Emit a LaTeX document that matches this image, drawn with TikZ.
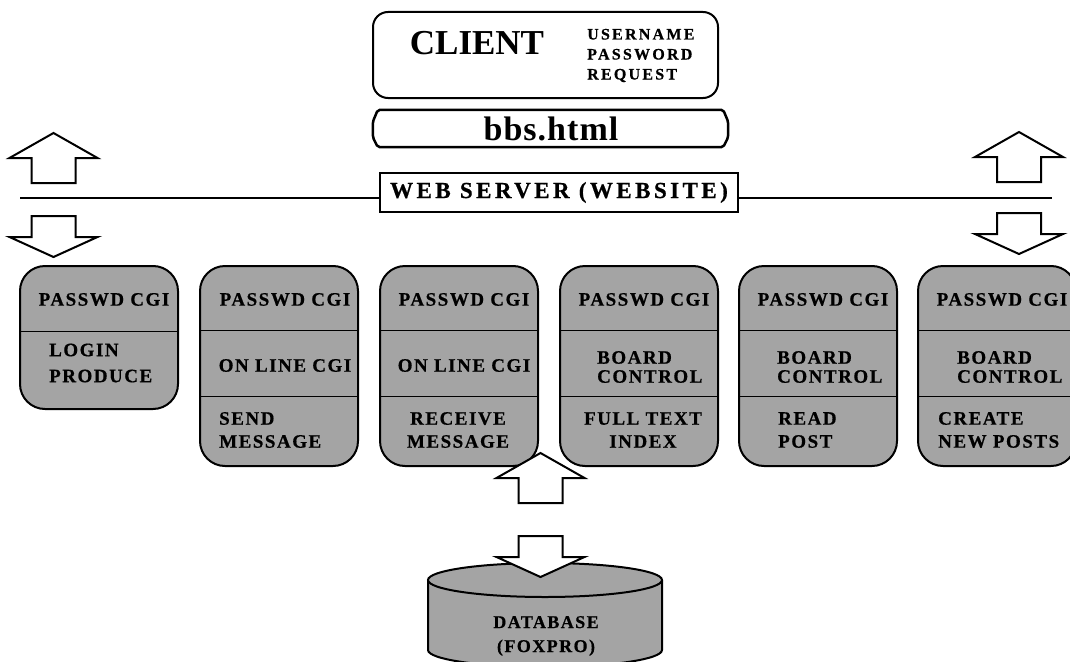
\documentclass[tikz,border=0pt]{standalone}
\usepackage{fontspec}
\setmainfont{Liberation Serif}
\newfontfamily\lblface{Liberation Serif}[LetterSpace=8, FakeBold=0.6]
\newfontfamily\loginface{Liberation Serif}[LetterSpace=14, FakeBold=0.6]
\newfontfamily\serverface{Liberation Serif}[LetterSpace=15, FakeBold=0.6]
\newfontfamily\titleface{Liberation Serif}[LetterSpace=3]
\usetikzlibrary{calc}
\definecolor{boxgray}{HTML}{A4A4A4}
\newcommand\midfont{\lblface\bfseries\fontsize{19}{19}\selectfont}
\newcommand\lowfont{\lblface\bfseries\fontsize{19}{23}\selectfont}

\tikzset{
  outline/.style={line width=2pt},
  cgibox/.style={draw, line width=2pt, fill=boxgray, rectangle, rounded corners=25pt,
    minimum width=158pt, inner sep=0pt},
  divider/.style={line width=1pt},
  lbl/.style={font=\midfont, inner sep=0pt},
  lowlbl/.style={font=\lowfont, inner sep=0pt},
  blockarrow/.style={draw, line width=2pt, fill=white, line join=miter},
  uparrow/.pic={\draw[blockarrow] (0,0) -- (44,25) -- (22,25) -- (22,50) -- (-22,50)
    -- (-22,25) -- (-44,25) -- cycle;},
  downarrow/.pic={\draw[blockarrow] (-22,0) -- (22,0) -- (22,21) -- (44,21) -- (0,41)
    -- (-44,21) -- (-22,21) -- cycle;}
}

\begin{document}
\begin{tikzpicture}[x=1pt,y=-1pt]
\useasboundingbox (0,0) rectangle (1070,661);

% client block
\node[draw, line width=2pt, rectangle, rounded corners=15pt, minimum width=345pt,
  minimum height=86pt] (client) at (545.5,55) {};
\node[font=\bfseries\fontsize{35}{35}\selectfont, inner sep=0pt] (clientname) at (477,43.5) {CLIENT};
\node[font=\loginface\bfseries\fontsize{16}{20}\selectfont, inner sep=0pt, align=left,
  anchor=west] (login) at (587,55.5) {USERNAME\\PASSWORD\\REQUEST};

% page: a bar with clipped ends
\node[minimum width=355pt, minimum height=37pt, inner sep=0pt] (page) at (550.5,128.5) {};
\draw[line width=2.5pt, rounded corners=2pt]
  ($(page.north west)+(5,0)$) -- ($(page.north east)+(-5,0)$)
  -- ($(page.north east)+(0,12)$) -- ($(page.south east)+(0,-10)$)
  -- ($(page.south east)+(-5,0)$) -- ($(page.south west)+(5,0)$)
  -- ($(page.south west)+(0,-10)$) -- ($(page.north west)+(0,12)$) -- cycle;
\node[font=\titleface\bfseries\fontsize{34}{34}\selectfont, inner sep=0pt] (pagename) at (551,128.5) {bbs.html};

% server line and label
\coordinate (lineL) at (20,198);
\coordinate (lineR) at (1052,198);
\draw[line width=1.5pt] (lineL) -- (lineR);
\node[draw, line width=2pt, fill=white, rectangle, minimum width=358pt, minimum height=39pt,
  inner sep=0pt, font=\serverface\bfseries\fontsize{23}{23}\selectfont] (server) at (559,192.5)
  {WEB SERVER (WEBSITE)};

% arrows to and from the server
\pic (upL) at (53.5,133) {uparrow};
\pic (downL) at (53.5,216) {downarrow};
\pic (upR) at (1019,132) {uparrow};
\pic (downR) at (1019,213) {downarrow};

% CGI modules
\node[cgibox, minimum height=143pt] (b1) at (99,337.5) {};
\node[cgibox, minimum height=200pt] (b2) at (279,366) {};
\node[cgibox, minimum height=200pt] (b3) at (459,366) {};
\node[cgibox, minimum height=200pt] (b4) at (639,366) {};
\node[cgibox, minimum height=200pt] (b5) at (818,366) {};
\node[cgibox, minimum height=200pt] (b6) at (997,366) {};

\draw[divider] (b1.west |- 0,331) -- (b1.east |- 0,331);
\foreach \b in {b2,b3,b4,b5,b6}{
  \draw[divider] (\b.west |- 0,330) -- (\b.east |- 0,330);
  \draw[divider] (\b.west |- 0,396) -- (\b.east |- 0,396);
}

\foreach \b/\x in {b1/104,b2/285,b3/464,b4/644,b5/823,b6/1002}{
  \node[lbl] (\b-top) at (\x,299.5) {PASSWD CGI};
}

\node[lbl, font=\lblface\bfseries\fontsize{19}{26}\selectfont, align=left, anchor=west] (b1-low) at (49,363) {LOGIN\\PRODUCE};

\node[lbl] (b2-mid) at (285,365.5) {ON LINE CGI};
\node[lowlbl, align=left, anchor=west] (b2-low) at (219,430) {SEND\\MESSAGE};

\node[lbl] (b3-mid) at (464,365.5) {ON LINE CGI};
\node[lowlbl, align=center] (b3-low) at (458,430) {RECEIVE\\MESSAGE};

\node[lbl, align=left, anchor=west] (b4-mid) at (597,367) {BOARD\\CONTROL};
\node[lowlbl, align=center] (b4-low) at (643,430) {FULL TEXT\\INDEX};

\node[lbl, align=left, anchor=west] (b5-mid) at (777,367) {BOARD\\CONTROL};
\node[lowlbl, align=left, anchor=west] (b5-low) at (778,430) {READ\\POST};

\node[lbl, align=left, anchor=west] (b6-mid) at (957,367) {BOARD\\CONTROL};
\node[lowlbl, align=left, anchor=west] (b6-low) at (938,430) {CREATE\\NEW POSTS};

% database
\path[fill=boxgray] (428,580) -- (428,650)
  arc[start angle=180, end angle=0, x radius=117, y radius=17] -- (662,580) -- cycle;
\draw[outline] (428,580) -- (428,650)
  arc[start angle=180, end angle=0, x radius=117, y radius=17] -- (662,580);
\draw[outline, fill=boxgray] (545,580) ellipse [x radius=117, y radius=17];
\node[inner sep=0pt, font=\lblface\bfseries\fontsize{18}{24}\selectfont, align=center] (db) at (546,636) {DATABASE\\(FOXPRO)};

% arrows between the database and the modules
\pic (upM) at (540.5,453) {uparrow};
\pic (downM) at (540.5,536) {downarrow};
\end{tikzpicture}
\end{document}
